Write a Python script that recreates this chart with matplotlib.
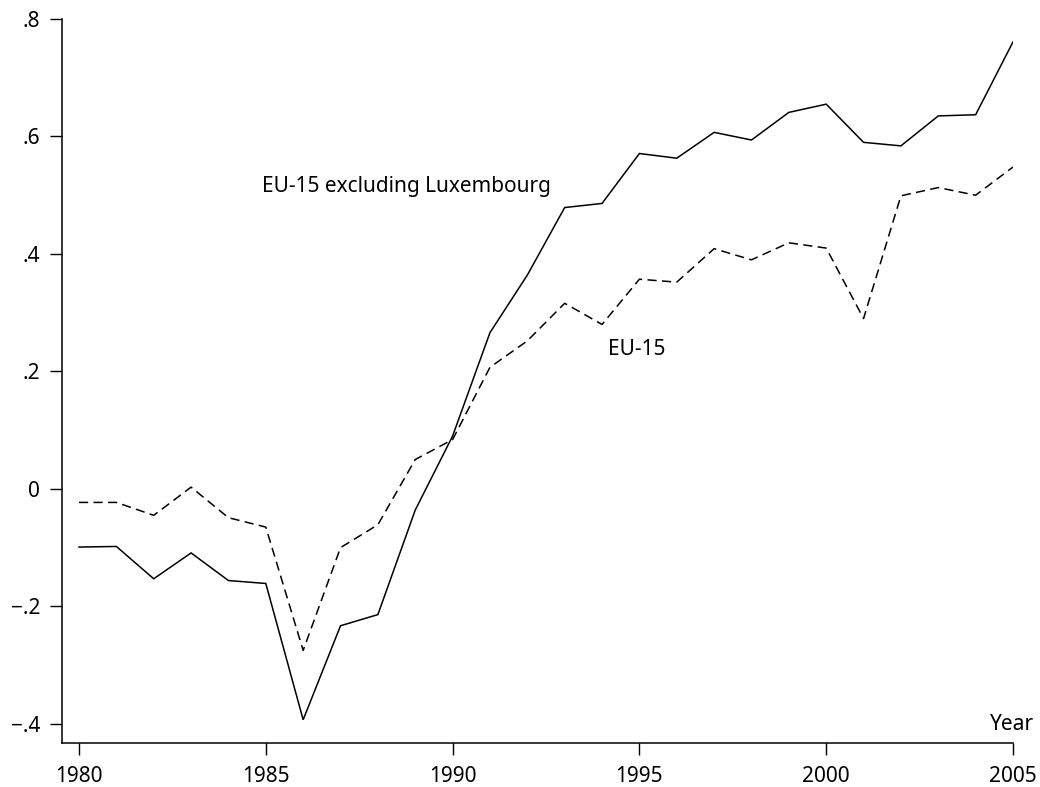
import matplotlib
matplotlib.use("Agg")
import matplotlib.pyplot as plt

plt.rcParams['font.family'] = ['Noto Sans', 'DejaVu Sans']

years = list(range(1980, 2006))
eu15_excl_lux = [-0.099, -0.098, -0.153, -0.109, -0.156, -0.161, -0.393, -0.233, -0.214, -0.036,
                 0.090, 0.266, 0.364, 0.479, 0.486, 0.571, 0.563, 0.607, 0.594, 0.641,
                 0.655, 0.590, 0.584, 0.635, 0.637, 0.761]
eu15 = [-0.023, -0.023, -0.045, 0.003, -0.049, -0.065, -0.275, -0.100, -0.061, 0.050,
        0.084, 0.207, 0.252, 0.316, 0.280, 0.357, 0.352, 0.409, 0.390, 0.419,
        0.410, 0.290, 0.499, 0.513, 0.500, 0.548]
xticks = [1980, 1985, 1990, 1995, 2000, 2005]
yticks = [-0.4, -0.2, 0.0, 0.2, 0.4, 0.6, 0.8]
ytick_labels = ['\u2212.4', '\u2212.2', '0', '.2', '.4', '.6', '.8']

W, H = 1040, 787
fig = plt.figure(figsize=(W / 100, H / 100), dpi=100)
left, right = 62 / W, 1013 / W
bottom, top = 1 - 743 / H, 1 - 19 / H
ax = fig.add_axes([left, bottom, right - left, top - bottom])

ax.plot(years, eu15_excl_lux, color='black', lw=1.1, solid_joinstyle='miter')
ax.plot(years, eu15, color='black', lw=1.1, linestyle=(0, (6, 3.5)))

ax.set_xlim(1980 - 17 / 37.36, 2005)
ax.set_ylim(-0.4326, 0.8)

ax.set_xticks(xticks)
ax.set_yticks(yticks)
ax.set_yticklabels(ytick_labels)
ax.tick_params(axis='both', direction='out', length=8.6, width=1.0, labelsize=15, colors='black')
ax.tick_params(axis='x', pad=8)
ax.tick_params(axis='y', pad=7)

for s in ['top', 'right']:
    ax.spines[s].set_visible(False)
for s in ['left', 'bottom']:
    ax.spines[s].set_linewidth(1.1)

ax.text(1984.9, 0.515, 'EU-15 excluding Luxembourg', fontsize=15, ha='left', va='center')
ax.text(1994.15, 0.237, 'EU-15', fontsize=15, ha='left', va='center')
fig.text(1034 / W, 1 - 725 / H, 'Year', fontsize=15, ha='right', va='center')

fig.savefig('out.png', dpi=100)
